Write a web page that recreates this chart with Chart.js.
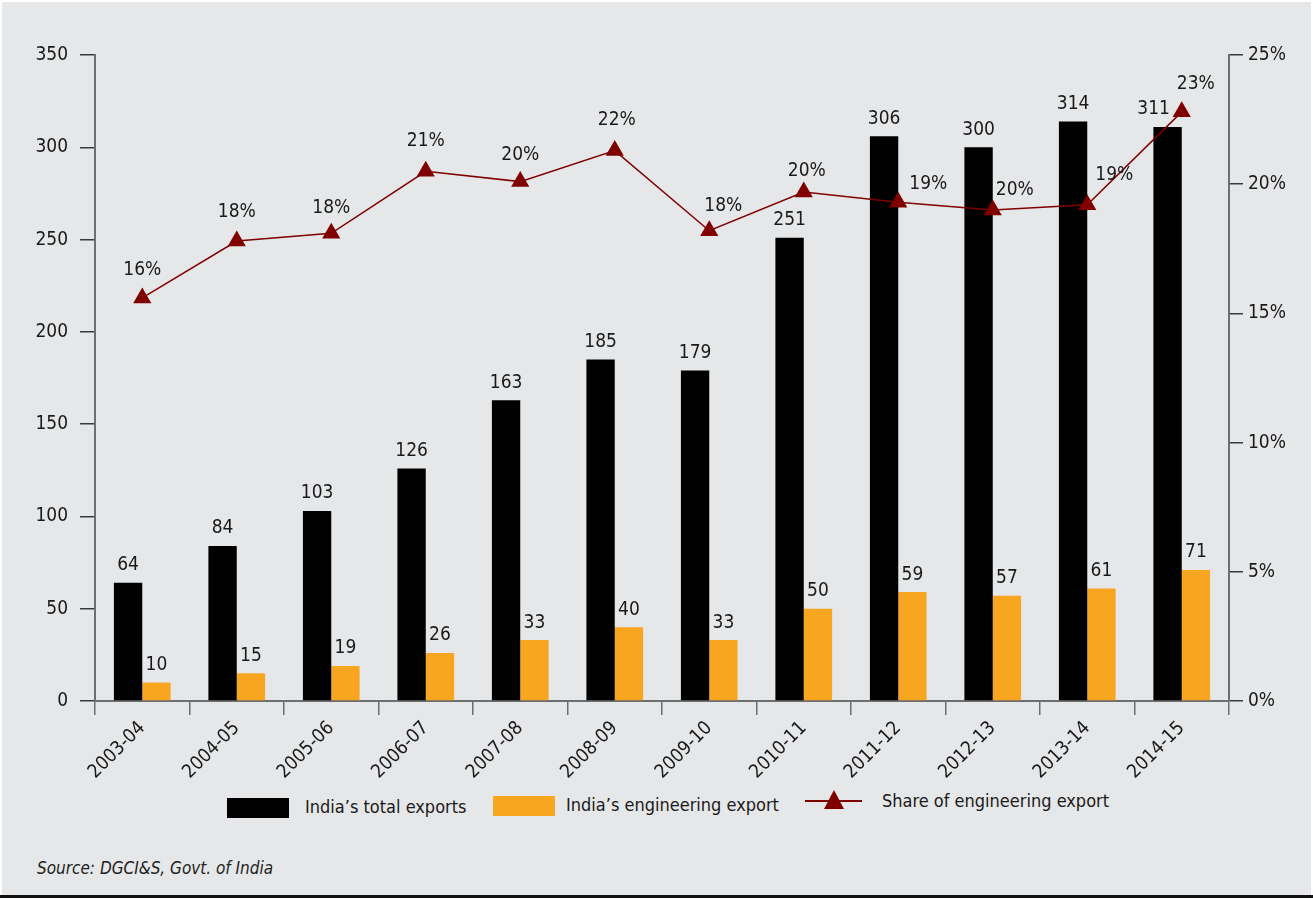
<!DOCTYPE html>
<html>
<head>
<meta charset="utf-8">
<script src="https://cdn.jsdelivr.net/npm/chart.js@4.4.1/dist/chart.umd.min.js"></script>
<style>
  html, body { margin: 0; padding: 0; background: #fff; }
  body { width: 1313px; height: 899px; position: relative; overflow: hidden;
    font-family: "Liberation Sans Narrow", "DejaVu Sans Condensed", sans-serif; }
  #panel { position: absolute; left: 2px; top: 2px; width: 1309px; height: 893px; background: #e6e7e9; }
  #bottomRule { position: absolute; left: 0; top: 895px; width: 1313px; height: 3px; background: #111; }
  #wrap { position: absolute; left: 0; top: 0; width: 1313px; height: 785px; }
  .leg { position: absolute; font-size: 18px; color: #1a1a1a; white-space: nowrap; }
  .box { position: absolute; width: 62px; height: 20px; }
  #lineIcon { position: absolute; left: 805px; top: 800px; width: 57px; height: 2px; background: #800000; }
  #triIcon { position: absolute; left: 824px; top: 790px; width: 0; height: 0;
    border-left: 10px solid transparent; border-right: 10px solid transparent; border-bottom: 19px solid #800000; }
  #source { position: absolute; left: 37px; top: 858px; font-size: 17px; font-style: italic; color: #222; }
</style>
</head>
<body>
<div id="panel"></div>
<div id="wrap"><canvas id="chart" width="1313" height="785"></canvas></div>

<div class="box" style="left:227px;top:798px;background:#000"></div>
<div class="leg" style="left:305px;top:796px">India’s total exports</div>
<div class="box" style="left:493px;top:796px;background:#f8a51f"></div>
<div class="leg" style="left:566px;top:794px">India’s engineering export</div>
<div id="lineIcon"></div>
<div id="triIcon"></div>
<div class="leg" style="left:882px;top:790px">Share of engineering export</div>
<div id="source">Source: DGCI&amp;S, Govt. of India</div>
<div id="bottomRule"></div>

<script>
const years = ["2003-04", "2004-05", "2005-06", "2006-07", "2007-08", "2008-09",
  "2009-10", "2010-11", "2011-12", "2012-13", "2013-14", "2014-15"];
const totalExports = [64, 84, 103, 126, 163, 185, 179, 251, 306, 300, 314, 311];
const engExports = [10, 15, 19, 26, 33, 40, 33, 50, 59, 57, 61, 71];
const sharePct = [15.6, 17.8, 18.1, 20.5, 20.1, 21.3, 18.2, 19.7, 19.3, 19.0, 19.2, 22.8];
const shareLabels = ["16%", "18%", "18%", "21%", "20%", "22%", "18%", "20%", "19%", "20%", "19%", "23%"];
const leftTicks = [0, 50, 100, 150, 200, 250, 300, 350];
const rightTicks = [0, 5, 10, 15, 20, 25];

const FONT = "'Liberation Sans Narrow', 'DejaVu Sans Condensed', sans-serif";
const axisColor = "#6d6e70";

// labels over bars and line points
const valueLabels = {
  id: "valueLabels",
  afterDatasetsDraw(chart) {
    const ctx = chart.ctx;
    ctx.save();
    ctx.font = "19px " + FONT;
    ctx.fillStyle = "#1a1a1a";
    ctx.textAlign = "center";
    ctx.textBaseline = "bottom";
    [0, 1].forEach((di) => {
      const meta = chart.getDatasetMeta(di);
      meta.data.forEach((bar, i) => {
        const v = chart.data.datasets[di].data[i];
        // last total label sits left of the triangle
        const shift = di === 0 && i === 11 ? -14 : 0;
        ctx.fillText(String(v), bar.x + shift, bar.y - 8);
      });
    });
    // share labels, shifted a bit where they would hit the bars
    const dx = [0, 0, 0, 0, 0, 2, 14, 3, 30, 22, 27, 14];
    const dy = [-18, -19, -16, -21, -17, -21, -15, -11, -9, -10, -20, -18];
    const meta = chart.getDatasetMeta(2);
    meta.data.forEach((pt, i) => {
      ctx.fillText(shareLabels[i], pt.x + dx[i], pt.y + dy[i]);
    });
    ctx.restore();
  },
};

new Chart(document.getElementById("chart"), {
  data: {
    labels: years,
    datasets: [
      {
        type: "bar",
        label: "India’s total exports",
        data: totalExports,
        backgroundColor: "#000000",
        yAxisID: "y",
        categoryPercentage: 0.6,
        barPercentage: 1.0,
        order: 2,
      },
      {
        type: "bar",
        label: "India’s engineering export",
        data: engExports,
        backgroundColor: "#f8a51f",
        yAxisID: "y",
        categoryPercentage: 0.6,
        barPercentage: 1.0,
        order: 2,
      },
      {
        type: "line",
        label: "Share of engineering export",
        data: sharePct,
        borderColor: "#800000",
        borderWidth: 1.5,
        pointStyle: "triangle",
        pointRadius: 10.5,
        pointBackgroundColor: "#800000",
        pointBorderColor: "#800000",
        pointBorderWidth: 0,
        tension: 0,
        yAxisID: "y1",
        order: 1,
      },
    ],
  },
  options: {
    responsive: false,
    animation: false,
    layout: { padding: { top: 55, left: 0, right: 0, bottom: 0 } },
    plugins: {
      legend: { display: false },
      tooltip: { enabled: false },
    },
    scales: {
      x: {
        offset: true,
        grid: {
          offset: true,
          drawOnChartArea: false,
          drawTicks: true,
          tickLength: 14,
          color: axisColor,
          lineWidth: 1.5,
        },
        border: { display: true, color: axisColor, width: 2 },
        ticks: {
          color: "#1a1a1a",
          font: { family: FONT, size: 19 },
          maxRotation: 45,
          minRotation: 45,
          padding: 2,
        },
        afterFit(scale) { scale.height = 84; },
      },
      y: {
        position: "left",
        min: 0,
        max: 350,
        afterBuildTicks(scale) { scale.ticks = leftTicks.map((v) => ({ value: v })); },
        grid: {
          drawOnChartArea: false,
          drawTicks: true,
          tickLength: 15,
          color: "#3a3a3a",
          lineWidth: 1.5,
        },
        border: { display: true, color: axisColor, width: 2 },
        ticks: {
          color: "#1a1a1a",
          font: { family: FONT, size: 19 },
          padding: 12,
        },
        afterFit(scale) { scale.width = 95; },
      },
      y1: {
        position: "right",
        min: 0,
        max: 25,
        afterBuildTicks(scale) { scale.ticks = rightTicks.map((v) => ({ value: v })); },
        grid: {
          drawOnChartArea: false,
          drawTicks: true,
          tickLength: 14,
          color: "#3a3a3a",
          lineWidth: 1.5,
        },
        border: { display: true, color: axisColor, width: 2 },
        ticks: {
          color: "#1a1a1a",
          font: { family: FONT, size: 19 },
          padding: 5,
          callback: (v) => v + "%",
        },
        afterFit(scale) { scale.width = 84; },
      },
    },
  },
  plugins: [valueLabels],
});
</script>
</body>
</html>
